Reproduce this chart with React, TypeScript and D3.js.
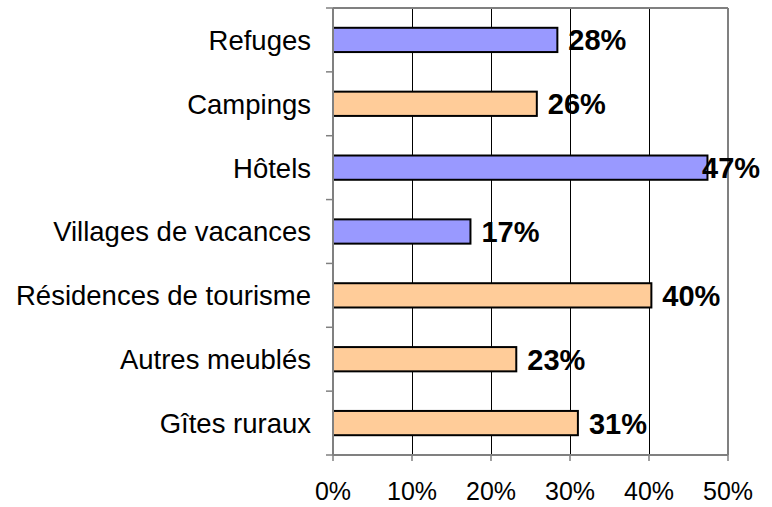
import React from 'react';
import * as d3 from 'd3';

const categories = [
  'Refuges',
  'Campings',
  'Hôtels',
  'Villages de vacances',
  'Résidences de tourisme',
  'Autres meublés',
  'Gîtes ruraux',
];
// share per type of accommodation (0..1)
const values = [0.284, 0.258, 0.474, 0.174, 0.403, 0.232, 0.31];
// which of the two series the bar belongs to
const groups = ['collectif', 'marchand', 'collectif', 'collectif', 'marchand', 'marchand', 'marchand'];
const xTicks = [0, 0.1, 0.2, 0.3, 0.4, 0.5];

const width = 772;
const height = 507;
const margin = { top: 8, right: 44, bottom: 52, left: 333 };
const font = '"Liberation Sans", Arial, sans-serif';

export default function App() {
  const innerW = width - margin.left - margin.right;
  const innerH = height - margin.top - margin.bottom;

  const x = d3.scaleLinear().domain([0, 0.5]).range([0, innerW]);
  const y = d3.scaleBand().domain(categories).range([0, innerH]).padding(0);
  const color = d3
    .scaleOrdinal<string, string>()
    .domain(['collectif', 'marchand'])
    .range(['#9999ff', '#ffcc99']);

  const band = y.bandwidth();
  const barH = band * 0.38;
  const pct = d3.format('.0%');

  return (
    <div style={{ position: 'absolute', left: 0, top: 0 }}>
      <svg width={width} height={height} style={{ display: 'block', background: '#fff' }}>
        <g transform={`translate(${margin.left},${margin.top})`}>
          {/* grid lines */}
          {xTicks.slice(1, -1).map((t) => (
            <line
              key={t}
              x1={Math.round(x(t)) + 0.5}
              x2={Math.round(x(t)) + 0.5}
              y1={0}
              y2={innerH}
              stroke="#000"
              strokeWidth={1}
            />
          ))}
          {/* frame: top and right */}
          <line x1={0} x2={innerW} y1={0} y2={0} stroke="#808080" strokeWidth={2} />
          <line x1={innerW} x2={innerW} y1={0} y2={innerH} stroke="#808080" strokeWidth={2} />

          {/* bars */}
          {categories.map((c, i) => (
            <rect
              key={c}
              x={0}
              y={(y(c) as number) + band / 2 - barH / 2}
              width={x(values[i])}
              height={barH}
              fill={color(groups[i])}
              stroke="#000"
              strokeWidth={2}
            />
          ))}

          {/* value labels */}
          {categories.map((c, i) => (
            <text
              key={c}
              x={Math.min(x(values[i]) + 11, width - margin.left - 70)}
              y={(y(c) as number) + band / 2}
              dy="0.36em"
              fontFamily={font}
              fontWeight="bold"
              fontSize={29}
              fill="#000"
            >
              {pct(Math.round(values[i] * 100) / 100)}
            </text>
          ))}

          {/* y axis */}
          <line x1={0} x2={0} y1={0} y2={innerH} stroke="#808080" strokeWidth={2} />
          {[0, ...categories.map((c) => (y(c) as number) + band)].map((v, i) => (
            <line key={i} x1={-7} x2={0} y1={v} y2={v} stroke="#808080" strokeWidth={1.5} />
          ))}
          {categories.map((c) => (
            <text
              key={c}
              x={-22}
              y={(y(c) as number) + band / 2}
              dy="0.36em"
              textAnchor="end"
              fontFamily={font}
              fontSize={27.5}
              fill="#000"
            >
              {c}
            </text>
          ))}

          {/* x axis */}
          <g transform={`translate(0,${innerH})`}>
            <line x1={0} x2={innerW} y1={0} y2={0} stroke="#808080" strokeWidth={2} />
            {xTicks.map((t) => (
              <g key={t} transform={`translate(${x(t)},0)`}>
                <line y1={0} y2={6} stroke="#808080" strokeWidth={1.5} />
                <text
                  y={45}
                  textAnchor="middle"
                  fontFamily={font}
                  fontSize={25}
                  fill="#000"
                >
                  {pct(t)}
                </text>
              </g>
            ))}
          </g>
        </g>
      </svg>
    </div>
  );
}
